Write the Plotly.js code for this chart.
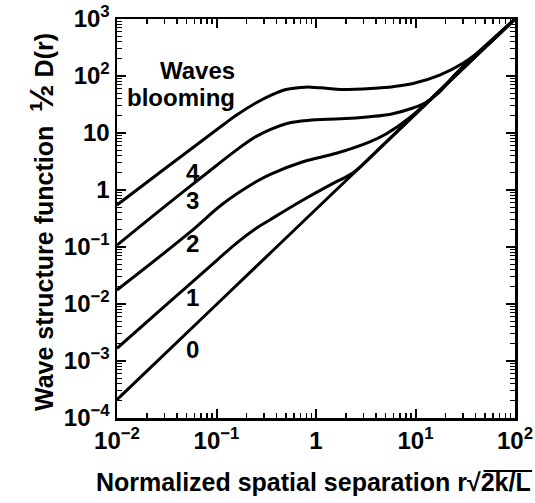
<!DOCTYPE html>
<html><head><meta charset="utf-8">
<script src="https://cdn.plot.ly/plotly-3.0.1.min.js"></script>
<style>html,body{margin:0;padding:0;background:#fff}#chart{width:535px;height:503px}</style>
</head><body><div id="chart"></div>
<script>
// Curve values (log-log axes)
const x0 = [0.01, 0.1, 1, 10, 100];
const y0 = [2.1e-4, 0.0098, 0.46, 21.5, 1000];

const x1 = [0.01, 0.0316, 0.1, 0.158, 0.251, 0.343, 0.74, 1.60, 2.36, 5.0, 15.8, 100];
const y1 = [0.00167, 0.00984, 0.0579, 0.116, 0.213, 0.298, 0.668, 1.40, 2.0, 6.8, 46.8, 1000];

const x2 = [0.01, 0.0538, 0.116, 0.252, 0.343, 0.74, 1.60, 3.47, 5.11, 8.73, 16.2, 31.6, 100];
const y2 = [0.0176, 0.18, 0.575, 1.41, 1.87, 3.13, 4.41, 7.0, 9.7, 18.5, 49, 155, 1000];

const x3 = [0.01, 0.0316, 0.1, 0.158, 0.251, 0.355, 0.501, 0.708, 1.0, 1.78, 3.47, 5.62, 9.44, 12.6, 17.5, 25.1, 35.5, 100];
const y3 = [0.108, 0.55, 2.69, 5.01, 8.71, 11.7, 14.5, 16.2, 17.1, 17.7, 19.3, 21.4, 27.5, 33.9, 52.5, 107, 195, 1000];

const x4 = [0.01, 0.0316, 0.0538, 0.116, 0.158, 0.251, 0.355, 0.501, 0.708, 0.891, 1.26, 1.78, 2.51, 3.55, 5.94, 9.44, 17.5, 30.0, 55.1, 100];
const y4 = [0.546, 2.51, 5.04, 13.8, 20.5, 34.0, 46.3, 58.1, 63.1, 63.8, 61.0, 58.2, 58.6, 60.3, 64.9, 73.8, 104, 167, 372, 1000];

const curveLabels = ['0', '1', '2', '3', '4'];
const xTickVals = [0.01, 0.1, 1, 10, 100];
const xTickText = ['10<sup>−2</sup>', '10<sup>−1</sup>', '1', '10<sup>1</sup>', '10<sup>2</sup>'];
const yTickVals = [1e-4, 1e-3, 1e-2, 1e-1, 1, 10, 100, 1000];
const yTickText = ['10<sup>−4</sup>', '10<sup>−3</sup>', '10<sup>−2</sup>', '10<sup>−1</sup>', '1', '10', '10<sup>2</sup>', '10<sup>3</sup>'];
const xTitle = 'Normalized spatial separation r√2k/L';
const yTitle = 'Wave structure function  <span style="font-size:33px">½</span> D(r)';
const noteLines = ['Waves', 'blooming'];

const FONT = 'Liberation Sans, Arial, Helvetica, sans-serif';
const xs = [x0, x1, x2, x3, x4];
const ys = [y0, y1, y2, y3, y4];
const traces = xs.map((x, i) => ({
  x: x, y: ys[i], type: 'scatter', mode: 'lines',
  line: {color: '#000', width: 3, shape: 'spline', smoothing: 1},
  hoverinfo: 'skip', showlegend: false
}));

// label positions (log10 coords on the axes)
const labelPos = [[-1.24, -2.80], [-1.24, -1.89], [-1.24, -0.93], [-1.24, -0.19], [-1.24, 0.30]];
const annotations = curveLabels.map((t, i) => ({
  text: t, xref: 'x', yref: 'y', x: labelPos[i][0], y: labelPos[i][1],
  showarrow: false, font: {family: FONT, size: 24, color: '#000', weight: 700}
}));
annotations.push({
  text: noteLines[0], xref: 'paper', yref: 'paper', x: 0.3015, y: 1 - (70 - 19) / 399,
  xanchor: 'right', yanchor: 'middle', showarrow: false,
  font: {family: FONT, size: 24, color: '#000', weight: 700}
});
annotations.push({
  text: noteLines[1], xref: 'paper', yref: 'paper', x: 0.3015, y: 1 - (97 - 19) / 399,
  xanchor: 'right', yanchor: 'middle', showarrow: false,
  font: {family: FONT, size: 24, color: '#000', weight: 700}
});
annotations.push({
  text: xTitle, xref: 'paper', yref: 'paper', x: (313 - 117) / 398, y: 1 - (482 - 19) / 399,
  xanchor: 'center', yanchor: 'middle', showarrow: false,
  font: {family: FONT, size: 25, color: '#000', weight: 700}
});
annotations.push({
  text: yTitle, xref: 'paper', yref: 'paper', x: (41 - 117) / 398, y: 1 - (222 - 19) / 399,
  xanchor: 'center', yanchor: 'middle', showarrow: false, textangle: -90,
  font: {family: FONT, size: 25, color: '#000', weight: 700}
});

const axisCommon = {
  type: 'log', showline: true, linecolor: '#000', linewidth: 2.5, mirror: 'allticks',
  ticks: 'inside', ticklen: 9, tickwidth: 2, tickcolor: '#000',
  showgrid: false, zeroline: false,
  minor: {ticks: 'inside', ticklen: 5, tickwidth: 1.3, tickcolor: '#000', dtick: 'D1', showgrid: false},
  tickfont: {family: FONT, size: 24, color: '#000', weight: 700},
  fixedrange: true
};

const layout = {
  width: 535, height: 503,
  margin: {l: 117, r: 20, t: 19, b: 85},
  paper_bgcolor: '#fff', plot_bgcolor: '#fff',
  xaxis: Object.assign({}, axisCommon, {range: [-2, 2], tickmode: 'array', tickvals: xTickVals, ticktext: xTickText}),
  yaxis: Object.assign({}, axisCommon, {range: [-4, 3], tickmode: 'array', tickvals: yTickVals, ticktext: yTickText}),
  annotations: annotations,
  shapes: [{type: 'line', xref: 'paper', yref: 'paper', x0: 0.921, x1: 1.043,
            y0: 1 - (471 - 19) / 399, y1: 1 - (471 - 19) / 399,
            line: {color: '#000', width: 2}}]
};

Plotly.newPlot('chart', traces, layout, {displayModeBar: false, staticPlot: true});
</script></body></html>
